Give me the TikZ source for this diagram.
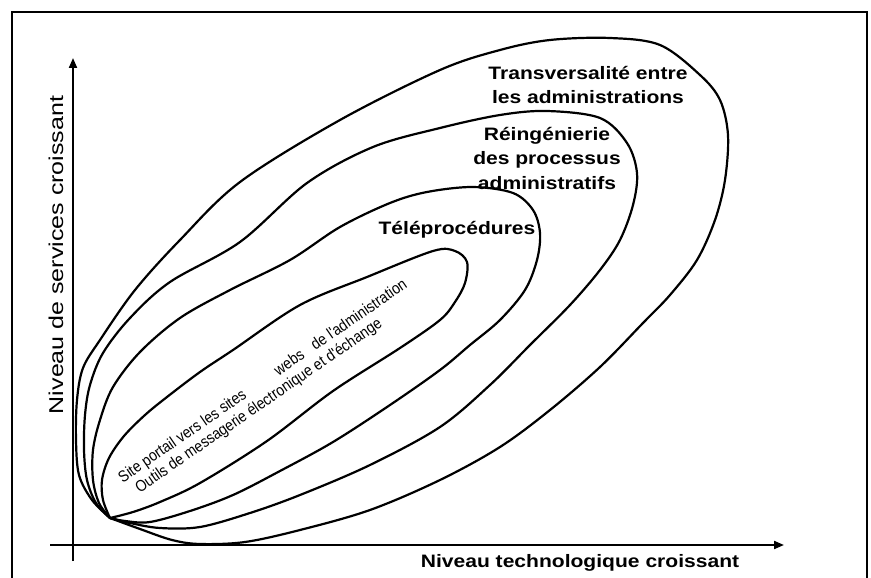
\documentclass[tikz,border=0pt]{standalone}
\usepackage{fontspec}
\setmainfont{Liberation Sans}
\newfontfamily\labfont[FakeStretch=1.17]{Liberation Sans}
\newfontfamily\axyfont[FakeStretch=1.25]{Liberation Sans}
\newfontfamily\innerfont[FakeStretch=0.875]{Liberation Sans}
\usetikzlibrary{arrows.meta}
\begin{document}
\begin{tikzpicture}[x=1pt,y=-1pt,
  frame/.style={line width=2.4pt},
  axis/.style={line width=2pt,-{Triangle[length=10pt,width=8pt]}},
  loop/.style={line width=2.2pt,line join=round},
  biglabel/.style={font=\labfont\bfseries\fontsize{18}{24.5}\selectfont,align=center,inner sep=0pt},
  innertext/.style={font=\innerfont\fontsize{16}{18}\selectfont,rotate=34.5,inner sep=0pt,align=left}]
\useasboundingbox (0,0) rectangle (871,578);
% frame
\draw[frame] (12,578) -- (12,12) -- (867,12) -- (867,578);
% axes
\coordinate (xs) at (50,545);
\coordinate (xe) at (784,545);
\coordinate (ys) at (73,561);
\coordinate (ye) at (73,58);
\draw[axis] (xs) -- (xe);
\draw[axis] (ys) -- (ye);
% outer loop
\draw[loop] plot[smooth,tension=0.55] coordinates {
 (110,518) (92,500) (79,475) (76,440) (77,400) (83,368) (100,340) (135,290)
 (180,240) (240,182) (340,120) (440,70) (500,50) (550,40) (610,38) (660,45)
 (700,75) (720,100) (728,135) (725,180) (715,220) (697,260) (670,295) (643,323)
 (600,367) (550,410) (500,447) (440,480) (370,510) (300,530) (245,542) (200,544)
 (172,540) (140,529) (110,518)};
% third loop
\draw[loop] plot[smooth,tension=0.55] coordinates {
 (110,518) (96,503) (87,480) (84,450) (85,415) (90,385) (103,353) (130,318) (170,282)
 (240,242) (307,183) (373,147) (440,128) (500,115) (547,111) (600,118) (627,143)
 (637,173) (633,205) (620,240) (600,270) (570,305) (530,345) (490,385) (440,427)
 (370,465) (300,495) (250,513) (200,527) (160,528) (130,523) (110,518)};
% second loop
\draw[loop] plot[smooth,tension=0.55] coordinates {
 (110,518) (99,503) (93,480) (93,450) (100,420) (113,387) (140,352) (180,318) (230,290)
 (290,260) (340,227) (390,203) (427,192) (473,187) (513,193) (533,210) (540,233)
 (537,260) (525,290) (500,320) (470,345) (440,370) (390,405) (333,442) (280,471)
 (233,495) (190,511) (150,522) (125,521) (110,518)};
% inner loop
\draw[loop] plot[smooth,tension=0.55] coordinates {
 (110,518) (103,500) (102,480) (109,458) (124,436) (145,415) (167,397) (200,372) (233,350) (300,305)
 (367,277) (433,251) (455,251) (467,262) (465,283) (455,302) (440,320) (400,348)
 (333,391) (267,441) (200,483) (160,502) (133,512) (110,518)};
% labels
\node[biglabel] (transv) at (588,85) {Transversalité entre\\les administrations};
\node[biglabel] (reing) at (547,158) {Réingénierie\\des processus\\administratifs};
\node[biglabel] (telep) at (457,230) {Téléprocédures};
\node[biglabel] (xlab) at (580,563) {Niveau technologique croissant};
\node[font=\axyfont\fontsize{20}{24}\selectfont,rotate=90,inner sep=0pt] (ylab) at (56,255) {Niveau de services croissant};
\node[innertext,anchor=base west] (site) at (133,498) {Site portail vers les sites\hspace*{38pt}webs\hspace*{12pt}de l'administration\\\hspace*{8pt}Outils de messagerie électronique et d'échange};
\end{tikzpicture}
\end{document}
